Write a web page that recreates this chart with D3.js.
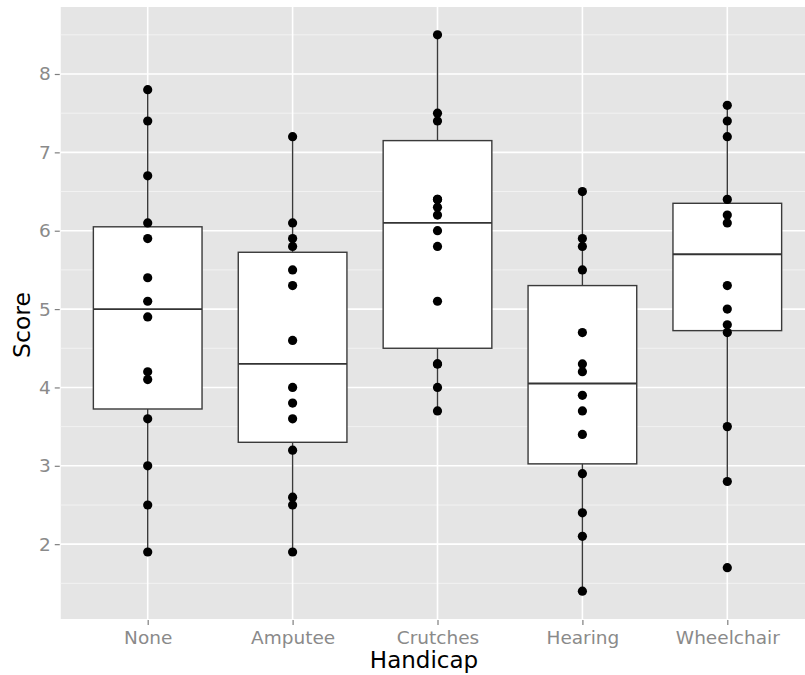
<!DOCTYPE html>
<html>
<head>
<meta charset="utf-8">
<script src="https://cdnjs.cloudflare.com/ajax/libs/d3/7.8.5/d3.min.js"></script>
<style>
	body { margin: 0; background: #ffffff; }
	text { font-family: "DejaVu Sans", sans-serif; }
</style>
</head>
<body>
<div id="chartContainer"></div>
<script>
const categories = ["None", "Amputee", "Crutches", "Hearing", "Wheelchair"];

// scores, one list per handicap group
const scoresNone = [7.8, 7.4, 6.7, 6.1, 5.9, 5.4, 5.1, 4.9, 4.2, 4.1, 3.6, 3.0, 2.5, 1.9];
const scoresAmputee = [7.2, 6.1, 5.9, 5.8, 5.5, 5.3, 4.6, 4.0, 3.8, 3.6, 3.2, 2.6, 2.5, 1.9];
const scoresCrutches = [8.5, 7.5, 7.4, 6.4, 6.4, 6.3, 6.2, 6.0, 5.8, 5.1, 4.3, 4.3, 4.0, 3.7];
const scoresHearing = [6.5, 5.9, 5.8, 5.5, 4.7, 4.3, 4.2, 3.9, 3.7, 3.4, 2.9, 2.4, 2.1, 1.4];
const scoresWheelchair = [7.6, 7.4, 7.2, 6.4, 6.2, 6.1, 5.3, 5.0, 4.8, 4.7, 3.5, 2.8, 1.7];

// box statistics as drawn in the picture
const lowerWhisker = [1.9, 1.9, 3.7, 1.4, 2.8];
const lowerHinge = [3.725, 3.3, 4.5, 3.025, 4.725];
const medians = [5.0, 4.3, 6.1, 4.05, 5.7];
const upperHinge = [6.05, 5.725, 7.15, 5.3, 6.35];
const upperWhisker = [7.8, 7.2, 8.5, 6.5, 7.6];

const yTicks = [2, 3, 4, 5, 6, 7, 8];
const yMinor = [1.5, 2.5, 3.5, 4.5, 5.5, 6.5, 7.5, 8.5];

const width = 805;
const height = 675;

let svg = d3
			.select("#chartContainer")
			.append("svg")
			.attr("width", width)
			.attr("height", height);

let xScale = d3.scalePoint().domain(categories).range([147.7, 727.3]);
let step = xScale.step();
let panelLeft = xScale(categories[0]) - 0.6 * step;
let panelRight = xScale(categories[categories.length - 1]) + 0.6 * step;

let yScale = d3.scaleLinear().domain([1.045, 8.855]).range([619, 7]);

let groups = [scoresNone, scoresAmputee, scoresCrutches, scoresHearing, scoresWheelchair];
let points = [];
groups.forEach((g, i) => {
	g.forEach((v) => points.push({ Handicap: categories[i], Score: v }));
});

let boxes = categories.map((c, i) => ({
	Handicap: c,
	lo: lowerWhisker[i],
	q1: lowerHinge[i],
	med: medians[i],
	q3: upperHinge[i],
	hi: upperWhisker[i]
}));

// panel background
svg.append("rect")
	.attr("x", panelLeft)
	.attr("y", yScale.range()[1])
	.attr("width", panelRight - panelLeft)
	.attr("height", yScale.range()[0] - yScale.range()[1])
	.attr("fill", "#e5e5e5");

// minor grid
svg.selectAll(".minor")
	.data(yMinor)
	.enter()
	.append("line")
	.attr("class", "minor")
	.attr("x1", panelLeft)
	.attr("x2", panelRight)
	.attr("y1", (d) => yScale(d))
	.attr("y2", (d) => yScale(d))
	.attr("stroke", "#f2f2f2")
	.attr("stroke-width", 1);

// major grid
svg.selectAll(".hmajor")
	.data(yTicks)
	.enter()
	.append("line")
	.attr("class", "hmajor")
	.attr("x1", panelLeft)
	.attr("x2", panelRight)
	.attr("y1", (d) => yScale(d))
	.attr("y2", (d) => yScale(d))
	.attr("stroke", "#ffffff")
	.attr("stroke-width", 1.6);

svg.selectAll(".vmajor")
	.data(categories)
	.enter()
	.append("line")
	.attr("class", "vmajor")
	.attr("x1", (d) => xScale(d))
	.attr("x2", (d) => xScale(d))
	.attr("y1", yScale.range()[0])
	.attr("y2", yScale.range()[1])
	.attr("stroke", "#ffffff")
	.attr("stroke-width", 1.6);

// axes
let yAxis = d3.axisLeft(yScale).tickValues(yTicks).tickSize(5).tickPadding(4);
let gy = svg.append("g")
			.attr("transform", "translate(" + (panelLeft - 1) + ",0)")
			.call(yAxis);

let xAxis = d3.axisBottom(xScale).tickSize(5).tickPadding(6);
let gx = svg.append("g")
			.attr("transform", "translate(0," + (yScale.range()[0] + 1) + ")")
			.call(xAxis);

[gy, gx].forEach((g) => {
	g.select(".domain").remove();
	g.selectAll(".tick line").attr("stroke", "#7f7f7f").attr("stroke-width", 1.2);
	g.selectAll(".tick text")
		.attr("fill", "#8a8a8a")
		.style("font-size", "18.5px")
		.style("font-family", "DejaVu Sans, sans-serif");
});

// whiskers, boxes and medians
let boxWidth = 0.75 * step;
let boxG = svg.append("g");

boxG.selectAll(".whisker")
	.data(boxes)
	.enter()
	.append("line")
	.attr("class", "whisker")
	.attr("x1", (d) => xScale(d.Handicap))
	.attr("x2", (d) => xScale(d.Handicap))
	.attr("y1", (d) => yScale(d.lo))
	.attr("y2", (d) => yScale(d.hi))
	.attr("stroke", "#3a3a3a")
	.attr("stroke-width", 1.4);

boxG.selectAll(".box")
	.data(boxes)
	.enter()
	.append("rect")
	.attr("class", "box")
	.attr("x", (d) => xScale(d.Handicap) - boxWidth / 2)
	.attr("width", boxWidth)
	.attr("y", (d) => yScale(d.q3))
	.attr("height", (d) => yScale(d.q1) - yScale(d.q3))
	.attr("fill", "#ffffff")
	.attr("stroke", "#3a3a3a")
	.attr("stroke-width", 1.4);

boxG.selectAll(".median")
	.data(boxes)
	.enter()
	.append("line")
	.attr("class", "median")
	.attr("x1", (d) => xScale(d.Handicap) - boxWidth / 2)
	.attr("x2", (d) => xScale(d.Handicap) + boxWidth / 2)
	.attr("y1", (d) => yScale(d.med))
	.attr("y2", (d) => yScale(d.med))
	.attr("stroke", "#333333")
	.attr("stroke-width", 1.8);

// points
svg.selectAll(".pt")
	.data(points)
	.enter()
	.append("circle")
	.attr("class", "pt")
	.attr("cx", (d) => xScale(d.Handicap))
	.attr("cy", (d) => yScale(d.Score))
	.attr("r", 4.6)
	.attr("fill", "#000000");

// axis titles
svg.append("text")
	.attr("x", 424)
	.attr("y", 668)
	.attr("text-anchor", "middle")
	.style("font-size", "23px")
	.attr("fill", "#000000")
	.text("Handicap");

svg.append("text")
	.attr("transform", "translate(30,325) rotate(-90)")
	.attr("text-anchor", "middle")
	.style("font-size", "23.5px")
	.attr("fill", "#000000")
	.text("Score");
</script>
</body>
</html>
